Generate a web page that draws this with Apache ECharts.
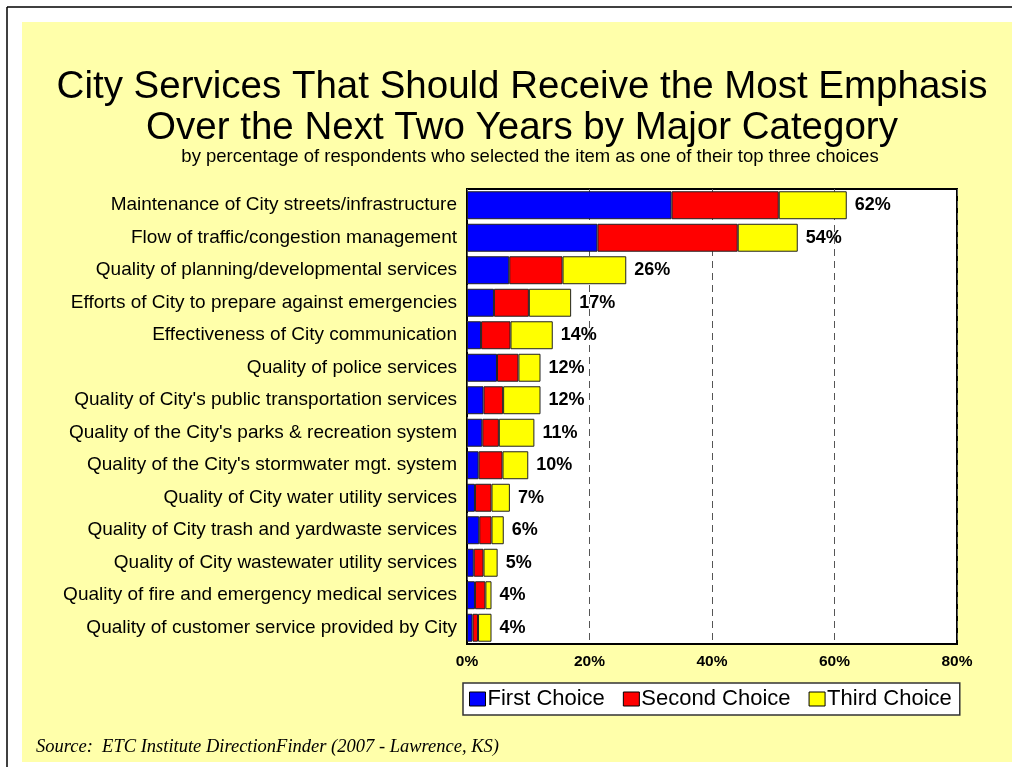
<!DOCTYPE html>
<html>
<head>
<meta charset="utf-8">
<script src="https://cdn.jsdelivr.net/npm/echarts@6/dist/echarts.min.js"></script>
<style>
  html, body { margin: 0; padding: 0; background: #ffffff; }
  #chart { width: 1012px; height: 767px; }
</style>
</head>
<body>
<div id="chart"></div>
<script>
// Services, top to bottom
const categories = [
  'Maintenance of City streets/infrastructure',
  'Flow of traffic/congestion management',
  'Quality of planning/developmental services',
  'Efforts of City to prepare against emergencies',
  'Effectiveness of City communication',
  'Quality of police services',
  "Quality of City's public transportation services",
  "Quality of the City's parks & recreation system",
  "Quality of the City's stormwater mgt. system",
  'Quality of City water utility services',
  'Quality of City trash and yardwaste services',
  'Quality of City wastewater utility services',
  'Quality of fire and emergency medical services',
  'Quality of customer service provided by City'
];

// Percent of respondents by choice rank
const firstChoice  = [33.4, 21.3, 6.9, 4.4, 2.3, 4.9, 2.7, 2.5, 1.9, 1.3, 2.0, 1.1, 1.3, 0.9];
const secondChoice = [17.5, 22.9, 8.7, 5.7, 4.8, 3.5, 3.2, 2.7, 3.9, 2.7, 2.0, 1.6, 1.7, 0.9];
const thirdChoice  = [11.1, 9.8, 10.4, 6.9, 6.9, 3.6, 6.1, 5.8, 4.2, 3.0, 2.0, 2.3, 1.0, 2.2];

const seriesNames = ['First Choice', 'Second Choice', 'Third Choice'];
const seriesColors = ['#0000ff', '#ff0000', '#ffff00'];

const FONT = '"Liberation Sans", Arial, sans-serif';

const chart = echarts.init(document.getElementById('chart'), null, { renderer: 'canvas' });

function barSeries(idx, data, withTotal) {
  const s = {
    name: seriesNames[idx],
    type: 'bar',
    stack: 'total',
    data: data,
    barWidth: '86%',
    itemStyle: { color: seriesColors[idx], borderColor: '#222', borderWidth: 1 },
    emphasis: { disabled: true },
    animation: false
  };
  if (withTotal) {
    // total of all three choices, written past the end of the stack
    s.label = {
      show: true,
      position: 'right',
      distance: 8,
      fontFamily: FONT,
      fontSize: 18,
      fontWeight: 'bold',
      color: '#000',
      formatter: function (p) {
        const i = p.dataIndex;
        const total = firstChoice[i] + secondChoice[i] + thirdChoice[i];
        return Math.round(total) + '%';
      }
    };
  }
  return s;
}

chart.setOption({
  backgroundColor: '#ffffff',
  animation: false,
  graphic: [
    { type: 'rect', shape: { x: 22, y: 22, width: 990, height: 740 }, style: { fill: '#ffffaa' }, z: -10, silent: true },
    { type: 'line', shape: { x1: 7, y1: 7, x2: 1012, y2: 7 }, style: { stroke: '#000', lineWidth: 1.5 }, z: -9 },
    { type: 'line', shape: { x1: 7, y1: 7, x2: 7, y2: 767 }, style: { stroke: '#000', lineWidth: 1.5 }, z: -9 },
    {
      type: 'text', left: 36, top: 738,
      style: {
        text: 'Source:  ETC Institute DirectionFinder (2007 - Lawrence, KS)',
        font: 'italic 18.5px "Liberation Serif", "Times New Roman", serif',
        fill: '#000'
      }
    }
  ],
  title: [
    {
      text: 'City Services That Should Receive the Most Emphasis\nOver the Next Two Years by Major Category',
      left: 517,
      top: 62,
      textAlign: 'center',
      textStyle: { fontFamily: FONT, fontSize: 38.5, fontWeight: 'normal', color: '#000', lineHeight: 41 }
    },
    {
      text: 'by percentage of respondents who selected the item as one of their top three choices',
      left: 525,
      top: 142,
      textAlign: 'center',
      textStyle: { fontFamily: FONT, fontSize: 18.5, fontWeight: 'normal', color: '#000' }
    }
  ],
  legend: {
    data: seriesNames,
    left: 463,
    top: 683,
    orient: 'horizontal',
    backgroundColor: '#ffffff',
    borderColor: '#333',
    borderWidth: 1.5,
    borderRadius: 0,
    padding: [5, 8, 5, 6],
    itemGap: 18,
    itemWidth: 16,
    itemHeight: 14,
    icon: 'rect',
    itemStyle: { borderColor: '#000', borderWidth: 1 },
    textStyle: { fontFamily: FONT, fontSize: 22, color: '#000', padding: [0, 0, 0, -3] },
    selectedMode: false
  },
  grid: {
    left: 467,
    top: 189,
    width: 490,
    height: 455,
    show: true,
    backgroundColor: '#ffffff',
    borderColor: '#000',
    borderWidth: 2,
    z: 0,
    containLabel: false
  },
  xAxis: {
    type: 'value',
    min: 0,
    max: 80,
    interval: 20,
    axisLine: { show: false },
    axisTick: { show: false },
    axisLabel: {
      formatter: '{value}%',
      fontFamily: FONT,
      fontSize: 15.5,
      fontWeight: 'bold',
      color: '#000',
      margin: 10
    },
    splitLine: { show: true, lineStyle: { color: '#555', type: [7, 5], width: 1 } }
  },
  yAxis: {
    type: 'category',
    data: categories,
    inverse: true,
    axisLine: { show: false },
    axisTick: { show: false },
    axisLabel: { fontFamily: FONT, fontSize: 19, color: '#000', margin: 10 }
  },
  series: [
    barSeries(0, firstChoice, false),
    barSeries(1, secondChoice, false),
    barSeries(2, thirdChoice, true)
  ]
});
</script>
</body>
</html>
